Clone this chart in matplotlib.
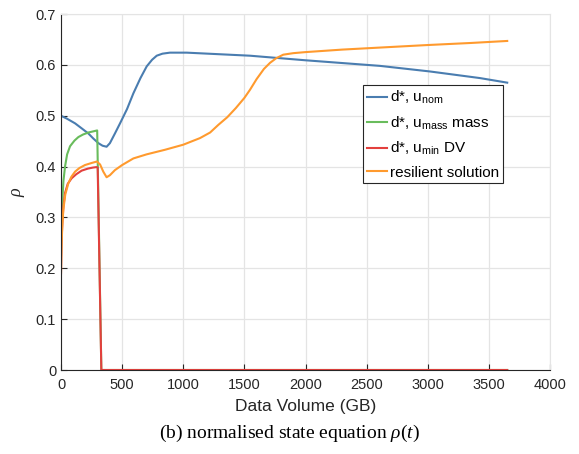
import numpy as np
import matplotlib
matplotlib.use('Agg')
import matplotlib.pyplot as plt

plt.rcParams['font.family'] = ['Liberation Sans', 'DejaVu Sans']
plt.rcParams['mathtext.fontset'] = 'custom'
plt.rcParams['mathtext.rm'] = 'Liberation Sans'
plt.rcParams['mathtext.it'] = 'Liberation Serif:italic'

# data (Data Volume in GB, rho)
x_nom = [0, 50, 115, 170, 224, 265, 306, 340, 373, 400, 441, 483, 540, 592, 650, 701,
         745, 783, 830, 891, 1028, 1287, 1546, 2000, 2609, 3018, 3427, 3650]
rho_nom = [0.500, 0.494, 0.485, 0.475, 0.465, 0.455, 0.446, 0.441, 0.439, 0.446, 0.465,
           0.485, 0.513, 0.544, 0.574, 0.597, 0.610, 0.618, 0.622, 0.624, 0.624, 0.621,
           0.618, 0.609, 0.598, 0.587, 0.574, 0.565]

x_mass = [0, 3, 11, 20, 33, 50, 74, 110, 142, 180, 224, 260, 295, 296, 330, 3650]
rho_mass = [0.226, 0.280, 0.334, 0.372, 0.400, 0.424, 0.440, 0.451, 0.458, 0.463,
            0.467, 0.469, 0.471, 0.471, 0.0, 0.0]

x_dv = [0, 4, 12, 20, 33, 55, 87, 125, 169, 220, 260, 290, 300, 330, 3650]
rho_dv = [0.190, 0.250, 0.295, 0.322, 0.348, 0.366, 0.377, 0.385, 0.392, 0.396,
          0.398, 0.399, 0.398, 0.0, 0.0]

x_res = [0, 4, 10, 19, 35, 60, 85, 115, 150, 196, 250, 294, 320, 346, 373, 400, 441,
         500, 592, 700, 850, 1000, 1137, 1220, 1287, 1360, 1430, 1500, 1546, 1600,
         1660, 1710, 1760, 1818, 1900, 1996, 2300, 2609, 3000, 3350, 3650]
rho_res = [0.190, 0.240, 0.280, 0.315, 0.345, 0.367, 0.380, 0.390, 0.397, 0.403,
           0.407, 0.410, 0.404, 0.390, 0.379, 0.383, 0.393, 0.403, 0.416, 0.424,
           0.433, 0.443, 0.456, 0.467, 0.482, 0.497, 0.515, 0.535, 0.551, 0.572,
           0.592, 0.604, 0.613, 0.620, 0.623, 0.625, 0.630, 0.634, 0.639, 0.643, 0.647]

labels = ['d*, u$_{\\mathrm{nom}}$', 'd*, u$_{\\mathrm{mass}}$ mass',
          'd*, u$_{\\mathrm{min}}$ DV', 'resilient solution']
colors = ['#4a7db0', '#69bc5c', '#e3403d', '#ff9a2e']

fig = plt.figure(figsize=(5.79, 4.54), dpi=100)
ax = fig.add_axes([61 / 579, 1 - 370 / 454, 489 / 579, 356 / 454])

series = [(x_nom, rho_nom), (x_mass, rho_mass), (x_dv, rho_dv), (x_res, rho_res)]
for (xs, ys), lab, col in zip(series, labels, colors):
    ax.plot(xs, ys, color=col, lw=1.5, label=lab)

ax.set_xlim(0, 4000)
ax.set_ylim(0, 0.7)
ax.set_xticks(np.arange(0, 4001, 500))
ax.set_yticks(np.arange(0, 0.71, 0.1))
ax.set_yticklabels(['0', '0.1', '0.2', '0.3', '0.4', '0.5', '0.6', '0.7'])
ax.grid(True, color='#e4e4e4', lw=0.9)
ax.set_axisbelow(True)
for s in ['top', 'right']:
    ax.spines[s].set_color('#e4e4e4')
for s in ['left', 'bottom']:
    ax.spines[s].set_color('#262626')
    ax.spines[s].set_linewidth(0.8)
ax.tick_params(direction='in', length=4, labelsize=10.5, colors='#262626',
               top=False, right=False)
ax.tick_params(axis='x', pad=6)
ax.set_xlabel('Data Volume (GB)', fontsize=12.5, color='#262626', labelpad=5)
ax.set_ylabel('$\\rho$', fontsize=13, color='#262626', labelpad=6)

leg = ax.legend(loc='upper left', bbox_to_anchor=(0.618, 0.80), fontsize=11,
                handlelength=1.3, handletextpad=0.2, borderpad=0.25,
                labelspacing=0.55, borderaxespad=0, fancybox=False,
                framealpha=1, edgecolor='#262626')
leg.get_frame().set_linewidth(0.8)

fig.text(0.5, 1 - 433 / 454, '(b) normalised state equation $\\rho$($t$)',
         ha='center', va='center', fontsize=14, family='Liberation Serif')

fig.savefig('out.png', dpi=100)
